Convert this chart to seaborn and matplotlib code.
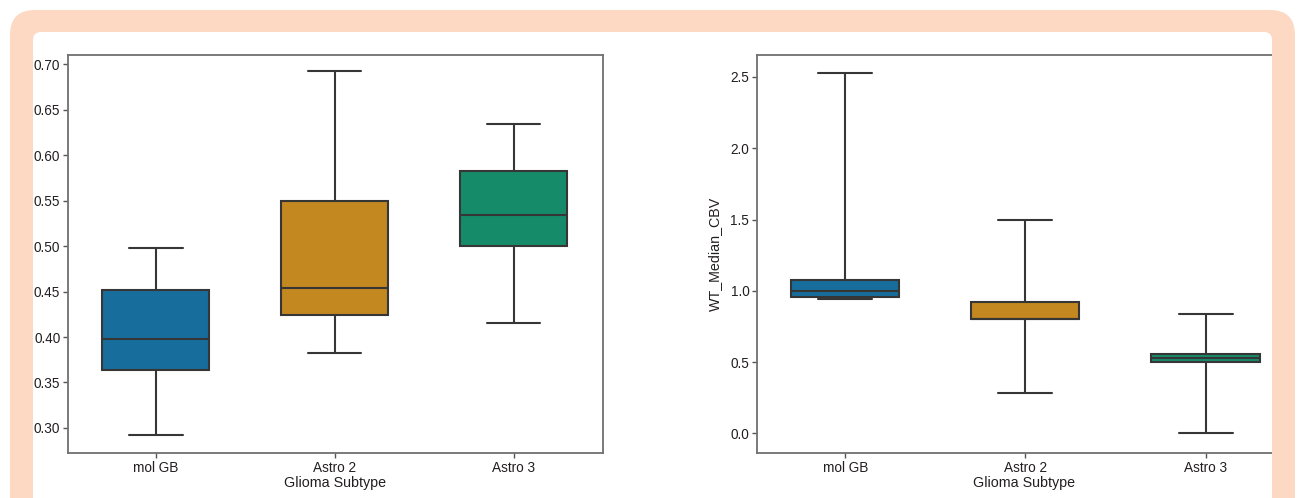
import pandas as pd
import matplotlib.pyplot as plt
import seaborn as sns
from matplotlib.patches import FancyBboxPatch, Rectangle

# Five-number summaries (min, Q1, median, Q3, max)
subtypes = ["mol GB", "Astro 2", "Astro 3"]
left_mol_gb = [0.292, 0.364, 0.398, 0.452, 0.498]
left_astro2 = [0.382, 0.4245, 0.454, 0.549, 0.692]
left_astro3 = [0.415, 0.500, 0.534, 0.582, 0.634]
cbv_mol_gb = [0.941, 0.955, 0.996, 1.073, 2.526]
cbv_astro2 = [0.284, 0.800, 0.805, 0.925, 1.500]
cbv_astro3 = [0.0, 0.503, 0.528, 0.557, 0.836]

left_ticks = [0.30, 0.35, 0.40, 0.45, 0.50, 0.55, 0.60, 0.65, 0.70]
right_ticks = [0.0, 0.5, 1.0, 1.5, 2.0, 2.5]

left_df = pd.DataFrame({
    "Glioma Subtype": [s for s in subtypes for _ in range(5)],
    "value": left_mol_gb + left_astro2 + left_astro3,
})
right_df = pd.DataFrame({
    "Glioma Subtype": [s for s in subtypes for _ in range(5)],
    "WT_Median_CBV": cbv_mol_gb + cbv_astro2 + cbv_astro3,
})

sns.set_theme(style="ticks")
plt.rcParams['font.family'] = ['Liberation Sans', 'DejaVu Sans']
plt.rcParams['text.color'] = '#231f20'
plt.rcParams['axes.labelcolor'] = '#231f20'
plt.rcParams['xtick.color'] = '#555555'
plt.rcParams['ytick.color'] = '#555555'
plt.rcParams['xtick.labelcolor'] = '#231f20'
plt.rcParams['ytick.labelcolor'] = '#231f20'

W, H = 1297, 498
fig = plt.figure(figsize=(W / 100, H / 100), dpi=100)

peach = '#fdd9c4'
# peach frame with white rounded panel
fig.patches.append(FancyBboxPatch((10 / W, -0.2), 1285 / W, (H - 10) / H + 0.2,
                                  boxstyle=f"round,pad=0,rounding_size={25 / W}",
                                  transform=fig.transFigure, facecolor=peach,
                                  edgecolor='none', zorder=-10,
                                  mutation_aspect=W / H))
fig.patches.append(FancyBboxPatch((33 / W, -0.2), 1239 / W, (H - 32) / H + 0.2,
                                  boxstyle=f"round,pad=0,rounding_size={8 / W}",
                                  transform=fig.transFigure, facecolor='white',
                                  edgecolor='none', zorder=-9,
                                  mutation_aspect=W / H))

ax1 = fig.add_axes([68 / W, 1 - 453 / H, 535 / W, 398 / H])
ax2 = fig.add_axes([757 / W, 1 - 453 / H, 535 / W, 398 / H])

box_kws = dict(x="Glioma Subtype", hue="Glioma Subtype", palette="colorblind",
               whis=(0, 100), width=0.6, linewidth=1.5, linecolor='#363636',
               legend=False)

sns.boxplot(data=left_df, y="value", ax=ax1, **box_kws)
sns.boxplot(data=right_df, y="WT_Median_CBV", ax=ax2, **box_kws)

ax1.set_ylim(0.2725, 0.710)
ax1.set_yticks(left_ticks)
ax1.set_yticklabels([f"{t:.2f}" for t in left_ticks])
ax1.set_ylabel("")
ax1.set_xlim(-0.49, 2.5)

ax2.set_ylim(-0.137, 2.654)
ax2.set_yticks(right_ticks)
ax2.set_yticklabels([f"{t:.1f}" for t in right_ticks])
ax2.set_xlim(-0.49, 2.48)

for ax in (ax1, ax2):
    for sp in ax.spines.values():
        sp.set_visible(True)
        sp.set_color('#707070')
        sp.set_linewidth(1.3)
    ax.tick_params(length=3.5, width=1, labelsize=9.8, pad=2)
    ax.set_xlabel("Glioma Subtype", labelpad=1, fontsize=10.3)
ax2.set_ylabel("WT_Median_CBV", labelpad=6, fontsize=10.3)
# right edge of the second panel sits under the frame
ax2.spines["right"].set_visible(False)

# the frame covers the right end of the second panel
fig.patches.append(Rectangle((1272 / W, -0.1), 23 / W, (H - 35) / H + 0.1,
                             transform=fig.transFigure, facecolor=peach,
                             edgecolor='none', zorder=10))

fig.savefig("out.png", dpi=100)
